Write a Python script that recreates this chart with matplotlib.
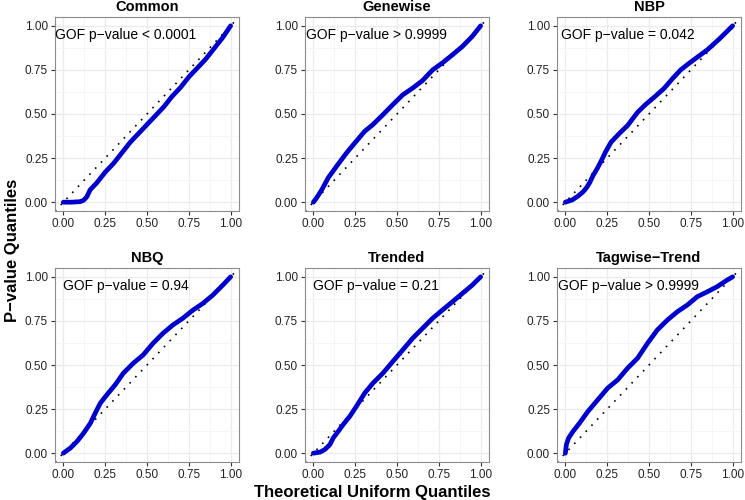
import matplotlib
matplotlib.use('Agg')
import matplotlib.pyplot as plt
from matplotlib.ticker import MultipleLocator
import numpy as np

plt.rcParams['font.family'] = ['Liberation Sans', 'DejaVu Sans']

# Panel titles and GOF annotations
titles = ['Common', 'Genewise', 'NBP', 'NBQ', 'Trended', 'Tagwise\u2212Trend']
gof_labels = ['GOF p\u2212value < 0.0001', 'GOF p\u2212value > 0.9999',
              'GOF p\u2212value = 0.042', 'GOF p\u2212value = 0.94',
              'GOF p\u2212value = 0.21', 'GOF p\u2212value > 0.9999']

# Quantile curves
common_x = [0, 0.05, 0.10, 0.12, 0.14, 0.16, 0.20, 0.25, 0.30, 0.35, 0.40, 0.45,
            0.50, 0.55, 0.60, 0.65, 0.70, 0.75, 0.80, 0.85, 0.90, 0.95, 1.0]
common_y = [0, 0.0, 0.003, 0.01, 0.03, 0.07, 0.11, 0.17, 0.22, 0.28, 0.34, 0.39,
            0.44, 0.49, 0.54, 0.60, 0.65, 0.71, 0.76, 0.81, 0.87, 0.93, 1.0]

genewise_x = [0, 0.02, 0.05, 0.09, 0.139, 0.198, 0.248, 0.307, 0.356, 0.416, 0.475,
              0.535, 0.594, 0.653, 0.713, 0.772, 0.832, 0.891, 0.950, 1.0]
genewise_y = [0, 0.025, 0.07, 0.14, 0.204, 0.279, 0.336, 0.402, 0.440, 0.496, 0.553,
              0.609, 0.647, 0.690, 0.750, 0.790, 0.836, 0.883, 0.940, 1.0]

nbp_x = [0, 0.04, 0.075, 0.105, 0.125, 0.145, 0.165, 0.19, 0.215, 0.24, 0.273, 0.323,
         0.372, 0.432, 0.481, 0.531, 0.590, 0.640, 0.689, 0.75, 0.85, 0.92, 1.0]
nbp_y = [0, 0.012, 0.034, 0.058, 0.08, 0.11, 0.15, 0.19, 0.235, 0.285, 0.34, 0.39,
         0.435, 0.51, 0.555, 0.595, 0.645, 0.70, 0.75, 0.795, 0.865, 0.925, 1.0]

nbq_x = [0, 0.043, 0.083, 0.122, 0.162, 0.191, 0.221, 0.260, 0.310, 0.359, 0.418,
         0.477, 0.536, 0.596, 0.655, 0.714, 0.773, 0.832, 0.892, 0.951, 1.0]
nbq_y = [0, 0.030, 0.068, 0.115, 0.171, 0.228, 0.284, 0.331, 0.388, 0.454, 0.510,
         0.557, 0.623, 0.680, 0.727, 0.765, 0.810, 0.848, 0.895, 0.951, 1.0]

trended_x = [0, 0.04, 0.069, 0.099, 0.119, 0.149, 0.178, 0.218, 0.257, 0.307, 0.356,
             0.416, 0.475, 0.535, 0.594, 0.653, 0.713, 0.772, 0.832, 0.891, 0.950, 1.0]
trended_y = [0, 0.006, 0.021, 0.049, 0.087, 0.124, 0.162, 0.209, 0.265, 0.341, 0.397,
             0.454, 0.520, 0.586, 0.652, 0.708, 0.765, 0.812, 0.859, 0.906, 0.953, 1.0]

tagwise_x = [0, 0.006, 0.020, 0.046, 0.085, 0.135, 0.194, 0.253, 0.313, 0.372, 0.432,
             0.491, 0.550, 0.610, 0.669, 0.729, 0.788, 0.848, 0.907, 0.966, 1.0]
tagwise_y = [0, 0.049, 0.087, 0.124, 0.171, 0.237, 0.303, 0.369, 0.416, 0.482, 0.539,
             0.623, 0.699, 0.755, 0.802, 0.840, 0.887, 0.915, 0.944, 0.981, 1.0]

curves = [(common_x, common_y), (genewise_x, genewise_y), (nbp_x, nbp_y),
          (nbq_x, nbq_y), (trended_x, trended_y), (tagwise_x, tagwise_y)]

ticks = [0.0, 0.25, 0.5, 0.75, 1.0]
tick_labels = ['0.00', '0.25', '0.50', '0.75', '1.00']

fig = plt.figure(figsize=(7.45, 5), dpi=100)

# panel positions in pixels (left, top)
lefts = [55, 305, 557]
tops = [17, 268]
W, H = 184, 194

for i, (title, gof, (cx, cy)) in enumerate(zip(titles, gof_labels, curves)):
    r, c = divmod(i, 3)
    ax = fig.add_axes([lefts[c] / 745, 1 - (tops[r] + H) / 500, W / 745, H / 500])
    ax.set_xlim(-0.05, 1.05)
    ax.set_ylim(-0.05, 1.05)

    # siatka
    ax.xaxis.set_minor_locator(MultipleLocator(0.125))
    ax.yaxis.set_minor_locator(MultipleLocator(0.125))
    ax.grid(True, which='major', color='#EBEBEB', linewidth=0.9)
    ax.grid(True, which='minor', color='#F5F5F5', linewidth=0.6)
    ax.set_axisbelow(True)
    ax.tick_params(which='minor', length=0)

    ax.plot([-0.05, 1.05], [-0.05, 1.05], color='black', linestyle=(0, (1, 4)),
            linewidth=1.2, zorder=2)
    ax.plot(cx, cy, color='#0000CC', linewidth=3.4, solid_capstyle='round',
            solid_joinstyle='round', zorder=3)

    ax.text(0.375, 0.95, gof, ha='center', va='center', fontsize=10, color='black')

    ax.set_xticks(ticks)
    ax.set_xticklabels(tick_labels)
    ax.set_yticks(ticks)
    ax.set_yticklabels(tick_labels)
    ax.tick_params(which='major', length=3, width=0.8, color='#333333',
                   labelsize=8.5, labelcolor='#222222', pad=2)
    for s in ax.spines.values():
        s.set_color('#8C8C8C')
        s.set_linewidth(0.8)

    ax.set_title(title, fontsize=10.5, fontweight='bold', pad=4)

fig.text(372 / 745, 1 - 492 / 500, 'Theoretical Uniform Quantiles', ha='center',
         va='center', fontsize=12, fontweight='bold')
fig.text(13 / 745, 1 - 250 / 500, 'P\u2212value Quantiles', ha='center', va='center',
         rotation=90, fontsize=12, fontweight='bold')

fig.savefig('out.png', dpi=100)
